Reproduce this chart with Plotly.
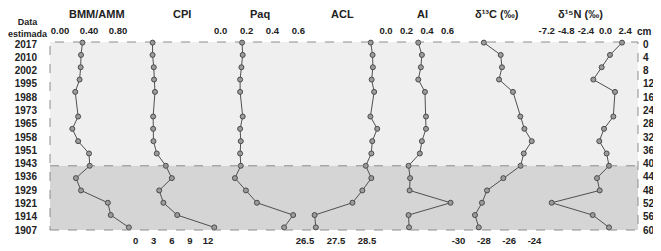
import plotly.graph_objects as go
import numpy as np

# ---------------- data ----------------
dates = ["2017", "2010", "2002", "1995", "1988", "1973", "1965", "1958",
         "1951", "1943", "1936", "1929", "1921", "1914", "1907"]
depth_labels = ["0", "4", "8", "12", "16", "24", "28", "32", "36", "40",
                "44", "48", "52", "56", "60"]
depth_cm = [0, 4, 8, 12, 16, 24, 28, 32, 36, 40, 44, 48, 52, 56, 60]

bmm_amm = [0.31, 0.29, 0.285, 0.27, 0.21, 0.25, 0.17, 0.25, 0.40, 0.41,
           0.22, 0.29, 0.66, 0.70, 0.95]
cpi = [2.8, 2.8, 3.0, 3.05, 3.2, 2.9, 2.9, 2.95, 3.5, 5.0,
       6.0, 3.9, 4.6, 6.9, 13.05]
paq = [0.165, 0.17, 0.16, 0.15, 0.15, 0.17, 0.15, 0.155, 0.15, 0.155,
       0.11, 0.195, 0.28, 0.56, 0.49]
acl = [28.62, 28.68, 28.69, 28.65, 28.73, 28.61, 28.83, 28.67, 28.64, 28.46,
       28.64, 28.35, 28.03, 26.81, 26.85]
ai = [0.315, 0.35, 0.34, 0.315, 0.38, 0.39, 0.39, 0.35, 0.33, 0.22,
      0.235, 0.23, 0.63, 0.22, 0.225]
d13c = [-28.0, -26.67, -26.57, -26.8, -25.7, -25.12, -24.8, -24.22, -24.85, -25.1,
        -26.46, -27.75, -28.15, -28.7, -28.4]
d15n = [2.02, 0.55, -0.47, -1.49, 1.16, 0.96, -0.18, -0.76, 0.14, 0.43,
        -1.04, -0.71, -6.59, -1.57, 0.43]

zone_boundary = 40

titles = ["BMM/AMM", "CPI", "Paq", "ACL", "AI", "δ¹³C (‰)", "δ¹⁵N (‰)"]
bmm_ticks = [0, 0.4, 0.8]
bmm_ticktext = ["0.00", "0.40", "0.80"]
cpi_ticks = [0, 3, 6, 9, 12]
paq_ticks = [0, 0.2, 0.4, 0.6]
paq_ticktext = ["0.0", "0.2", "0.4", "0.6"]
acl_ticks = [26.5, 27.5, 28.5]
ai_ticks = [0, 0.2, 0.4, 0.6]
ai_ticktext = ["0.0", "0.2", "0.4", "0.6"]
d13c_ticks = [-30, -28, -26, -24]
d13c_ticktext = ["-30", "-28", "-26", "-24"]
d15n_ticks = [-7.2, -4.8, -2.4, 0.0, 2.4]
d15n_ticktext = ["-7.2", "-4.8", "-2.4", "0.0", "2.4"]

# ---------------- layout geometry ----------------
OFF = 8                      # default page body margin
W, H = 661 - OFF, 251 - OFF
x_left, x_right = 50 - OFF, 638 - OFF
y_top, y_bot = 42 - OFF, 230 - OFF
L, R, T, B = x_left, W - x_right, y_top, H - y_bot


def xrange_for(v0, p0, s):
    """axis range so that value v0 lands at (screen) pixel p0 with s px per unit"""
    p0 = p0 - OFF
    return [v0 + (x_left - p0) / s, v0 + (x_right - p0) / s]


panels = [
    dict(vals=bmm_amm, rng=xrange_for(0, 60, 72.5), side="top",
         tv=bmm_ticks, tt=bmm_ticktext, title_px=97),
    dict(vals=cpi, rng=xrange_for(0, 135.7, 6.02), side="bottom",
         tv=cpi_ticks, tt=[str(v) for v in cpi_ticks], title_px=182),
    dict(vals=paq, rng=xrange_for(0, 220.7, 129.4), side="top",
         tv=paq_ticks, tt=paq_ticktext, title_px=260),
    dict(vals=acl, rng=xrange_for(26.5, 305, 31), side="bottom",
         tv=acl_ticks, tt=[str(v) for v in acl_ticks], title_px=342),
    dict(vals=ai, rng=xrange_for(0, 386, 102.5), side="top",
         tv=ai_ticks, tt=ai_ticktext, title_px=422),
    dict(vals=d13c, rng=xrange_for(-30, 458.5, 12.67), side="bottom",
         tv=d13c_ticks, tt=d13c_ticktext, title_px=497),
    dict(vals=d15n, rng=xrange_for(0, 605.5, 8.17), side="top",
         tv=d15n_ticks, tt=d15n_ticktext, title_px=580),
]

y_range = [60.85, -0.2]
tick_pos = np.linspace(0.45, 60.85, len(dates))

font_family = "Liberation Sans, Arial, sans-serif"
txt_col = "#222222"

fig = go.Figure()

for i, p in enumerate(panels):
    xa = "x" if i == 0 else f"x{i+1}"
    fig.add_trace(go.Scatter(
        x=p["vals"], y=depth_cm, xaxis=xa, yaxis="y",
        mode="lines+markers",
        line=dict(color="#505050", width=1),
        marker=dict(size=5, color="#9c9c9c", line=dict(color="#4a4a4a", width=1)),
        showlegend=False, hoverinfo="skip", cliponaxis=False,
    ))

# invisible trace for right depth axis
fig.add_trace(go.Scatter(x=[None], y=[None], xaxis="x", yaxis="y2",
                         showlegend=False, hoverinfo="skip"))

layout = dict(
    width=W, height=H,
    margin=dict(l=L, r=R, t=T, b=B, pad=0, autoexpand=False),
    paper_bgcolor="white", plot_bgcolor="white",
    font=dict(family=font_family, size=10, color=txt_col),
    yaxis=dict(range=y_range, tickvals=list(tick_pos), ticktext=dates,
               showgrid=False, zeroline=False, showline=False, ticks="",
               ticklabelstandoff=12, automargin=False,
               tickfont=dict(family=font_family, size=10, color=txt_col, weight="bold")),
    yaxis2=dict(range=y_range, tickvals=list(tick_pos), ticktext=depth_labels,
                overlaying="y", side="right", showgrid=False, zeroline=False,
                showline=False, ticks="", ticklabelstandoff=4, automargin=False,
                tickfont=dict(family=font_family, size=10, color=txt_col, weight="bold")),
)

for i, p in enumerate(panels):
    key = "xaxis" if i == 0 else f"xaxis{i+1}"
    ax = dict(range=p["rng"], side=p["side"], tickvals=p["tv"], ticktext=p["tt"],
              showgrid=False, zeroline=False, showline=False, ticks="",
              tickangle=0, automargin=False,
              ticklabelstandoff=5 if p["side"] == "top" else 3,
              tickfont=dict(family=font_family, size=9.5, color=txt_col, weight="bold"),
              anchor="y")
    if i > 0:
        ax["overlaying"] = "x"
    layout[key] = ax

fig.update_layout(**layout)

# background zones and dashed frame
fig.add_shape(type="rect", xref="paper", yref="y", x0=0, x1=1,
              y0=y_range[1], y1=zone_boundary, fillcolor="#efefef",
              line=dict(width=0), layer="below")
fig.add_shape(type="rect", xref="paper", yref="y", x0=0, x1=1,
              y0=zone_boundary, y1=y_range[0], fillcolor="#d5d5d5",
              line=dict(width=0), layer="below")
fig.add_shape(type="rect", xref="paper", yref="paper", x0=0, x1=1, y0=0, y1=1,
              line=dict(color="#8c8c8c", width=1, dash="dash"), layer="above")
fig.add_shape(type="line", xref="paper", yref="y", x0=0, x1=1,
              y0=zone_boundary, y1=zone_boundary,
              line=dict(color="#8c8c8c", width=1, dash="dash"), layer="above")

plot_w = x_right - x_left
for i, p in enumerate(panels):
    fig.add_annotation(text=f"<b>{titles[i]}</b>", xref="paper", yref="paper",
                       x=(p["title_px"] - OFF - x_left) / plot_w, y=1, yshift=28,
                       xanchor="center", yanchor="middle", showarrow=False,
                       font=dict(family=font_family, size=11, color=txt_col))

fig.add_annotation(text="<b>Data<br>estimada</b>", xref="paper", yref="paper",
                   x=0, y=1, xshift=-22, yshift=14, xanchor="center",
                   yanchor="middle", showarrow=False,
                   font=dict(family=font_family, size=9, color=txt_col))
fig.add_annotation(text="<b>cm</b>", xref="paper", yref="paper",
                   x=1, y=1, xshift=-3, yshift=11, xanchor="left",
                   yanchor="middle", showarrow=False,
                   font=dict(family=font_family, size=10, color=txt_col))

fig.write_html("out.html")
